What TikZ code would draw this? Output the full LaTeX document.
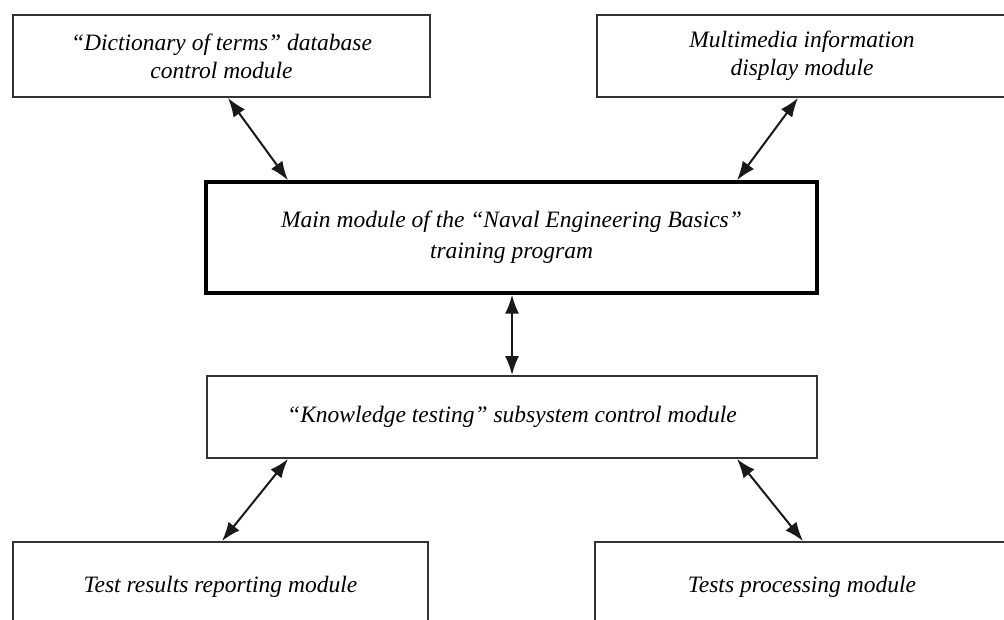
\documentclass[tikz,border=0pt]{standalone}
\usepackage{fontspec}
\setmainfont{Liberation Serif}
\usetikzlibrary{arrows.meta}
\begin{document}
\begin{tikzpicture}[x=1pt,y=-1pt,
  box/.style={draw=black!80, line width=1.9pt, rectangle, align=center,
    font=\fontsize{23.5}{28}\selectfont\itshape, inner sep=0pt},
  mainbox/.style={box, draw=black, line width=3.4pt,
    font=\fontsize{23.5}{31}\selectfont\itshape},
  arr/.style={{Latex[length=19pt,width=14pt]}-{Latex[length=19pt,width=14pt]},
    line width=2pt, draw=black!90}]
\useasboundingbox (0,0) rectangle (1004,620);
\clip (0,0) rectangle (1004,620);
\fill[white] (0,0) rectangle (1004,620);
\node[box, minimum width=417pt, minimum height=82pt] (dict) at (221.5,56)
  {“Dictionary of terms” database\\control module};
\node[box, minimum width=410pt, minimum height=82pt] (multi) at (802,56)
  {Multimedia information\\display module};
\node[mainbox, minimum width=611pt, minimum height=111pt] (main) at (511.5,237.5)
  {Main module of the “Naval Engineering Basics”\\training program};
\node[box, minimum width=610pt, minimum height=82pt] (know) at (512,417)
  {“Knowledge testing” subsystem control module};
\node[box, minimum width=415pt, minimum height=90pt] (report) at (220.5,587)
  {Test results reporting module};
\node[box, minimum width=414pt, minimum height=90pt] (tests) at (802,587)
  {Tests processing module};
\draw[arr] ([xshift=6.5pt]dict.south) -- ([xshift=-223.5pt]main.north);
\draw[arr] ([xshift=-4pt]multi.south) -- ([xshift=225.5pt]main.north);
\draw[arr] ([xshift=0.5pt]main.south) -- (know.north);
\draw[arr] ([xshift=-224pt]know.south) -- ([xshift=1.5pt]report.north);
\draw[arr] ([xshift=225pt]know.south) -- ([xshift=1pt]tests.north);
\end{tikzpicture}
\end{document}
